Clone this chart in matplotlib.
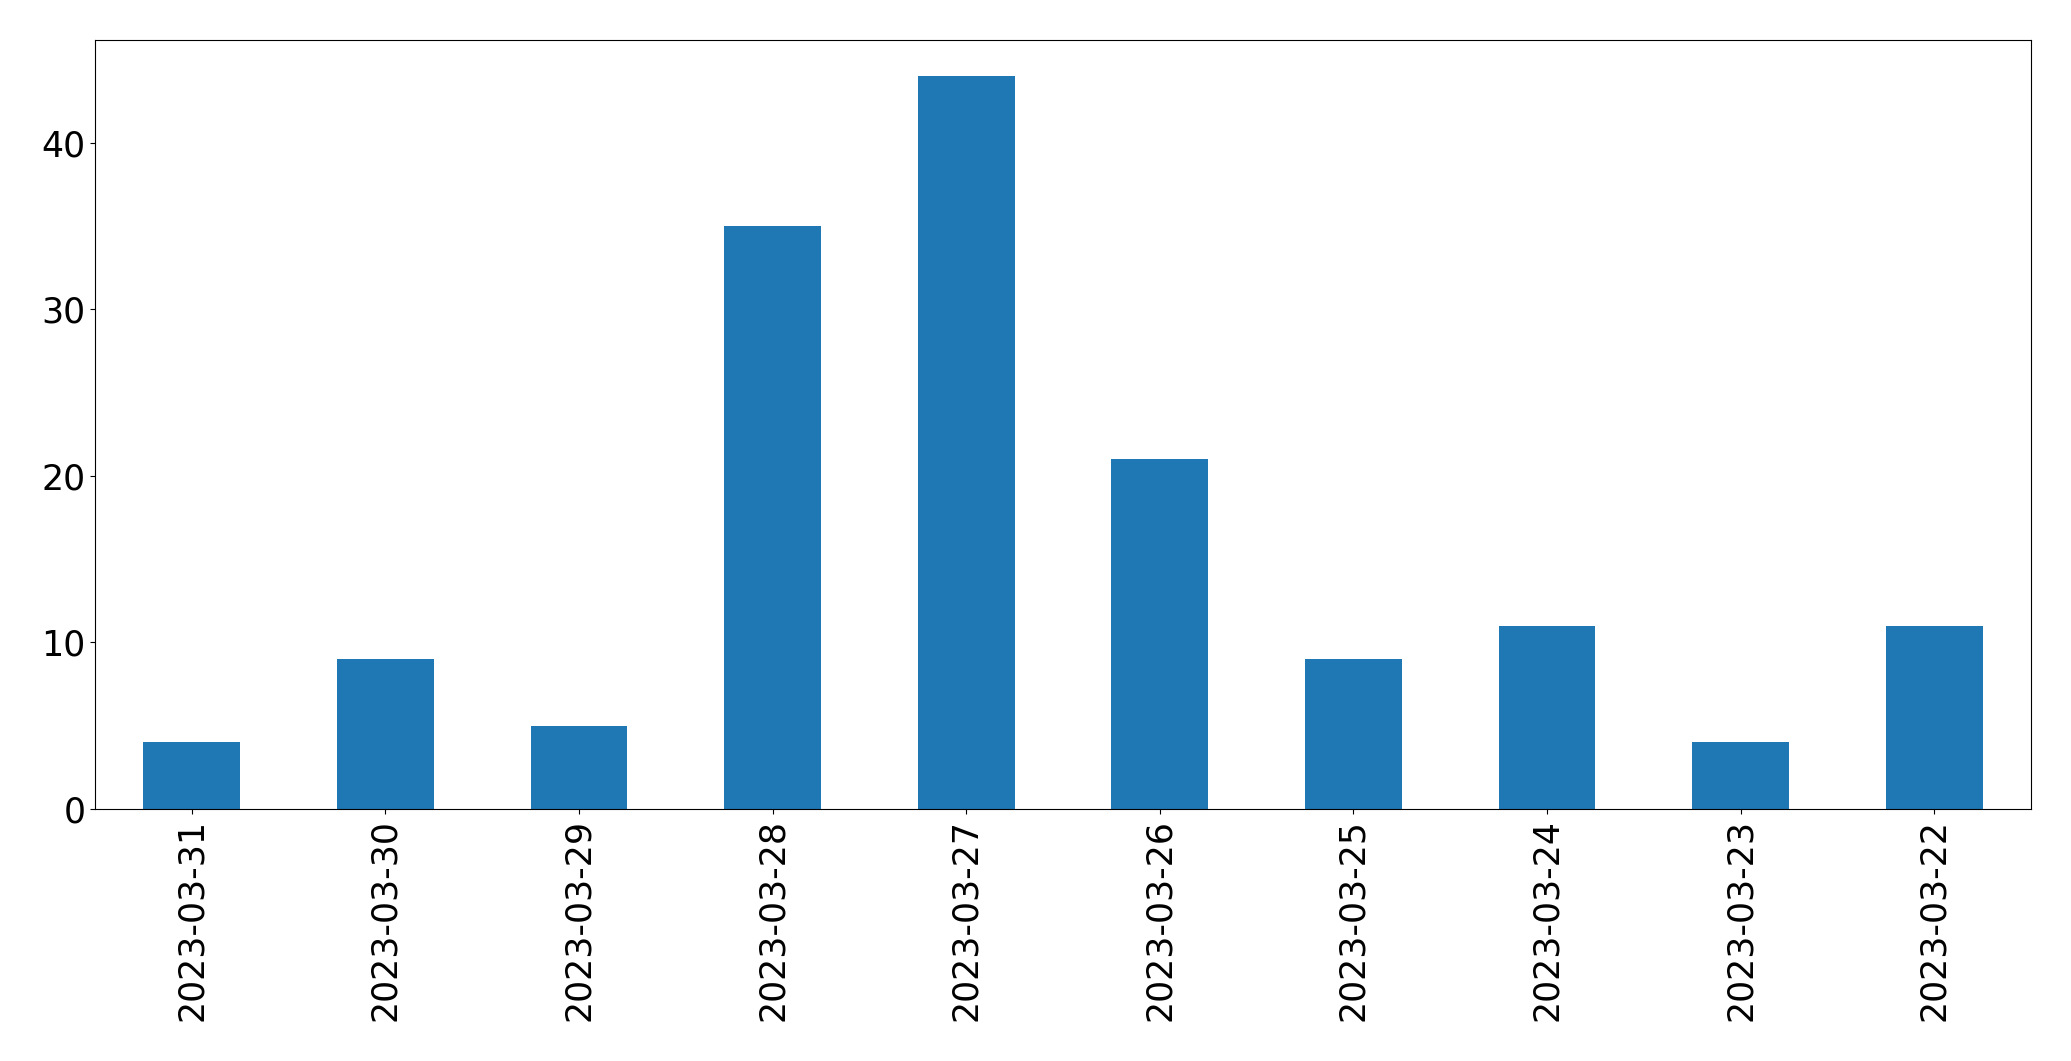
import matplotlib
matplotlib.use('Agg')
import matplotlib.pyplot as plt
import pandas as pd

dates = ['2023-03-31', '2023-03-30', '2023-03-29', '2023-03-28', '2023-03-27',
         '2023-03-26', '2023-03-25', '2023-03-24', '2023-03-23', '2023-03-22']
counts = [4, 9, 5, 35, 44, 21, 9, 11, 4, 11]

s = pd.Series(counts, index=dates)

fig = plt.figure(figsize=(20.71, 10.61), dpi=100)
ax = fig.add_axes([95/2071, (1061-809)/1061, (2031-95)/2071, (809-39.5)/1061])
s.plot(kind='bar', ax=ax, color='#1f77b4')
ax.tick_params(labelsize=25)
ax.set_yticks([0, 10, 20, 30, 40])

fig.savefig('out.png', dpi=100)
